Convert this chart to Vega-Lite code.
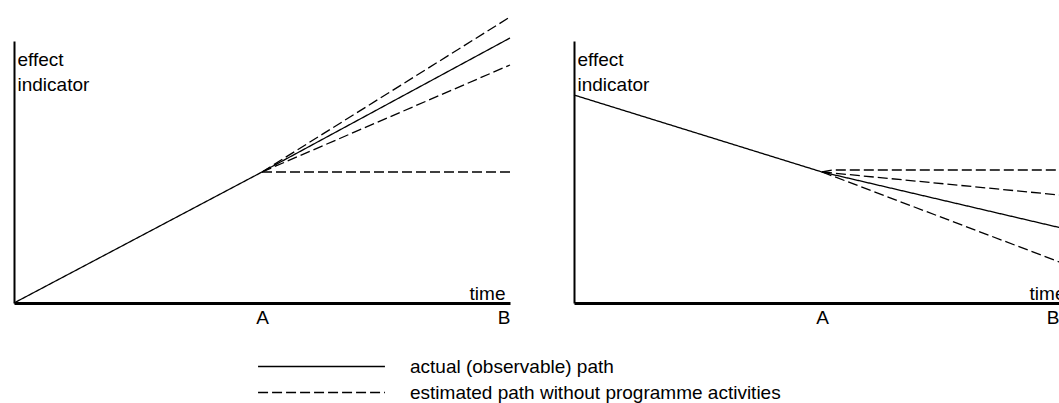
{
  "$schema": "https://vega.github.io/schema/vega-lite/v6.json",
  "padding": {"left": 11, "top": 14, "right": 0, "bottom": 0},
  "background": "white",
  "bounds": "flush",
  "spacing": 64,
  "datasets": {
    "left": [
      {"series": "actual", "path": "actual (observable) path", "t": 0, "v": 0},
      {"series": "actual", "path": "actual (observable) path", "t": 5, "v": 131},
      {"series": "actual", "path": "actual (observable) path", "t": 10, "v": 265},
      {"series": "high", "path": "estimated path without programme activities", "t": 5, "v": 131},
      {"series": "high", "path": "estimated path without programme activities", "t": 10, "v": 286},
      {"series": "mid", "path": "estimated path without programme activities", "t": 5, "v": 131},
      {"series": "mid", "path": "estimated path without programme activities", "t": 10, "v": 238},
      {"series": "flat", "path": "estimated path without programme activities", "t": 5, "v": 131},
      {"series": "flat", "path": "estimated path without programme activities", "t": 10, "v": 131}
    ],
    "right": [
      {"series": "actual", "path": "actual (observable) path", "t": 0, "v": 208},
      {"series": "actual", "path": "actual (observable) path", "t": 5, "v": 131},
      {"series": "actual", "path": "actual (observable) path", "t": 10, "v": 73},
      {"series": "flat", "path": "estimated path without programme activities", "t": 5, "v": 131},
      {"series": "flat", "path": "estimated path without programme activities", "t": 5.2, "v": 133},
      {"series": "flat", "path": "estimated path without programme activities", "t": 10, "v": 133},
      {"series": "mid", "path": "estimated path without programme activities", "t": 5, "v": 131},
      {"series": "mid", "path": "estimated path without programme activities", "t": 10, "v": 107},
      {"series": "low", "path": "estimated path without programme activities", "t": 5, "v": 131},
      {"series": "low", "path": "estimated path without programme activities", "t": 10, "v": 37}
    ]
  },
  "hconcat": [
    {
      "width": 496,
      "height": 262,
      "data": {"name": "left"},
      "mark": {"type": "line", "color": "black", "strokeWidth": 1.3},
      "encoding": {
        "x": {
          "field": "t", "type": "quantitative",
          "scale": {"domain": [0, 10], "nice": false, "zero": false},
          "axis": {
            "values": [5, 10],
            "labelExpr": "datum.value < 7.5 ? 'A' : 'B'",
            "title": "time",
            "titleX": 491, "titleY": -4,
            "titleAlign": "right", "titleBaseline": "alphabetic", "titleAnchor": null
          }
        },
        "y": {
          "field": "v", "type": "quantitative",
          "scale": {"domain": [0, 262], "nice": false, "zero": false},
          "axis": {
            "title": ["effect", "indicator"],
            "titleX": 3, "titleY": 24, "titleAngle": 0,
            "titleAlign": "left", "titleBaseline": "alphabetic", "titleAnchor": null,
            "labels": false, "domainWidth": 2
          }
        },
        "detail": {"field": "series"},
        "strokeDash": {
          "field": "path", "type": "nominal",
          "scale": {
            "domain": ["actual (observable) path", "estimated path without programme activities"],
            "range": [[1, 0], [10, 4]]
          }
        }
      }
    },
    {
      "width": 496,
      "height": 262,
      "data": {"name": "right"},
      "mark": {"type": "line", "color": "black", "strokeWidth": 1.3},
      "encoding": {
        "x": {
          "field": "t", "type": "quantitative",
          "scale": {"domain": [0, 10], "nice": false, "zero": false},
          "axis": {
            "values": [5, 9.65],
            "labelExpr": "datum.value < 7.5 ? 'A' : 'B'",
            "title": "time",
            "titleX": 491, "titleY": -4,
            "titleAlign": "right", "titleBaseline": "alphabetic", "titleAnchor": null
          }
        },
        "y": {
          "field": "v", "type": "quantitative",
          "scale": {"domain": [0, 262], "nice": false, "zero": false},
          "axis": {
            "title": ["effect", "indicator"],
            "titleX": 3, "titleY": 24, "titleAngle": 0,
            "titleAlign": "left", "titleBaseline": "alphabetic", "titleAnchor": null,
            "labels": false, "domainWidth": 2
          }
        },
        "detail": {"field": "series"},
        "strokeDash": {
          "field": "path", "type": "nominal",
          "scale": {
            "domain": ["actual (observable) path", "estimated path without programme activities"],
            "range": [[1, 0], [10, 4]]
          }
        }
      }
    }
  ],
  "config": {
    "view": {"stroke": null},
    "font": "Liberation Sans",
    "axis": {
      "grid": false,
      "ticks": false,
      "domainColor": "black",
      "labelColor": "black",
      "labelFont": "Liberation Sans",
      "labelFontSize": 19,
      "labelPadding": 5,
      "titleColor": "black",
      "titleFont": "Liberation Sans",
      "titleFontSize": 19,
      "titleFontWeight": "normal",
      "titleLineHeight": 25
    },
    "axisX": {"domainWidth": 3},
    "legend": {
      "orient": "none",
      "legendX": 241,
      "legendY": 316,
      "title": null,
      "symbolType": "M-10,0H10",
      "symbolSize": 161,
      "symbolOffset": 57,
      "symbolStrokeWidth": 1.3,
      "symbolStrokeColor": "black",
      "labelFont": "Liberation Sans",
      "labelFontSize": 19,
      "labelColor": "black",
      "labelOffset": 79,
      "labelLimit": 0,
      "rowPadding": 6
    }
  }
}
